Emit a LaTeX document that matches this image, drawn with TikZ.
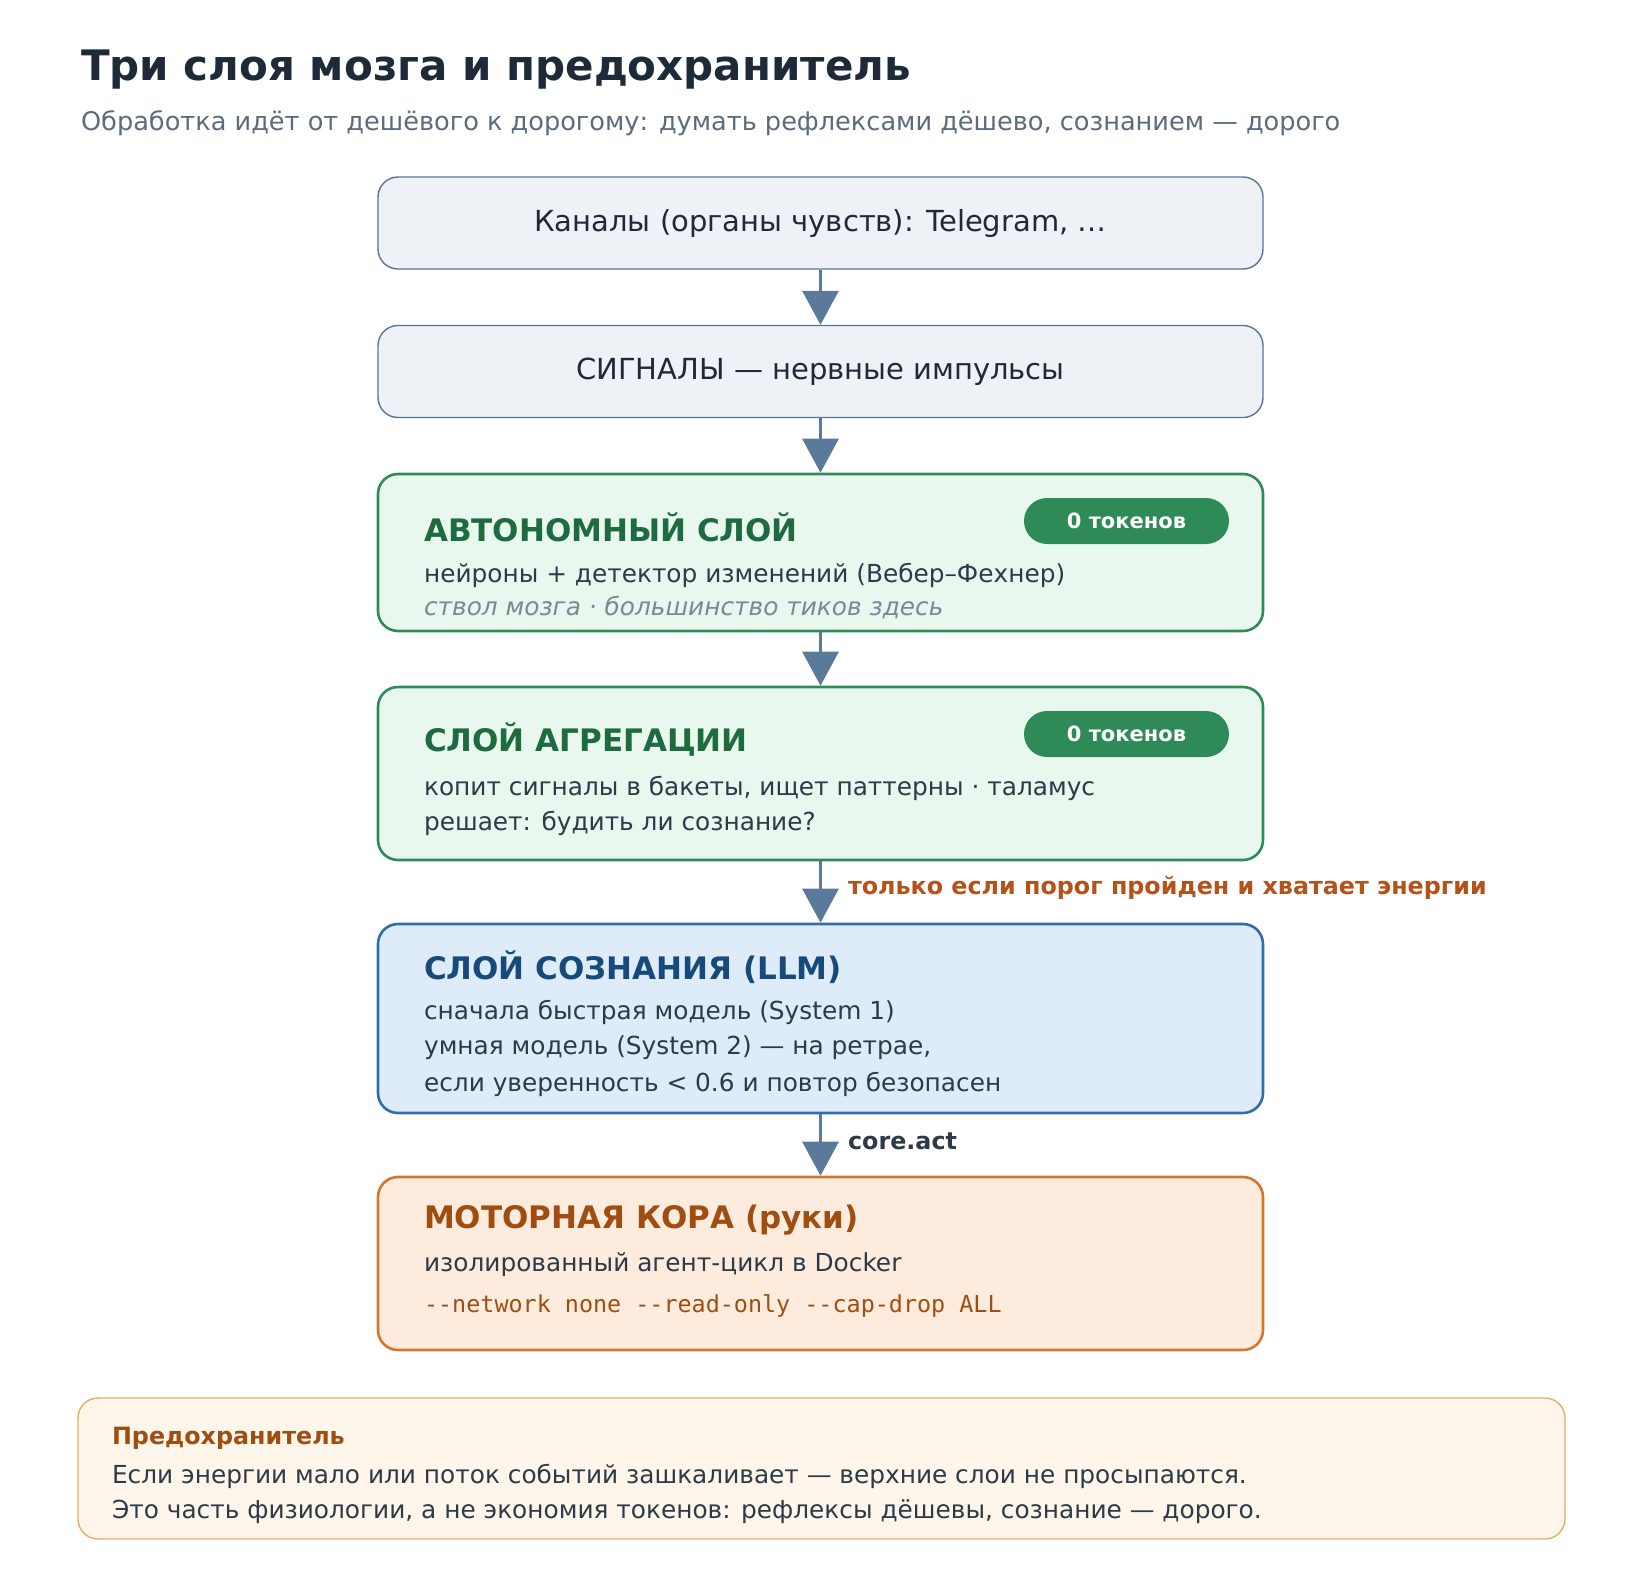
\documentclass[tikz,border=0pt]{standalone}
\usepackage{fontspec}
\setmainfont{DejaVu Sans}
\setmonofont{DejaVu Sans Mono}
\usetikzlibrary{arrows.meta,positioning}
\definecolor{ink}{HTML}{1E2A38}
\definecolor{subink}{HTML}{5A6B80}
\definecolor{body}{HTML}{2D3A48}
\definecolor{grayb}{HTML}{5A7594}
\definecolor{grayf}{HTML}{EEF2F7}
\definecolor{arrowc}{HTML}{5B7A99}
\definecolor{greenb}{HTML}{2E8B57}
\definecolor{greenf}{HTML}{E8F8EF}
\definecolor{greent}{HTML}{1E6B40}
\definecolor{blueb}{HTML}{2F6DB0}
\definecolor{bluef}{HTML}{DEEBF8}
\definecolor{bluet}{HTML}{174A7A}
\definecolor{orangeb}{HTML}{D2772E}
\definecolor{orangef}{HTML}{FDECDD}
\definecolor{oranget}{HTML}{A04D12}
\definecolor{warnc}{HTML}{B5521A}
\definecolor{fuseb}{HTML}{E0B060}
\definecolor{fusef}{HTML}{FEF6EA}
\definecolor{italc}{HTML}{7A8898}
\tikzset{
  layer/.style={draw, rounded corners=10pt, minimum width=442.5pt, inner sep=0pt},
  inbox/.style={layer, draw=grayb, fill=grayf, line width=0.7pt, minimum height=46pt,
    font=\fontsize{14.5}{17}\selectfont, text=ink},
  arr/.style={draw=arrowc, line width=1.5pt, -{Triangle[length=17pt,width=18pt]}},
  head/.style={anchor=west, font=\bfseries\fontsize{15.5}{18}\selectfont},
  line/.style={anchor=west, font=\fontsize{12.4}{15}\selectfont, text=body},
  badge/.style={fill=greenb, rounded corners=11.5pt, minimum width=102.5pt, minimum height=23pt,
    inner sep=0pt, text=white, font=\bfseries\fontsize{10.5}{12}\selectfont},
  note/.style={anchor=west, font=\bfseries\fontsize{11.9}{14}\selectfont},
}
\begin{document}
\begin{tikzpicture}[x=0.5pt,y=-0.5pt]
\useasboundingbox (0,0) rectangle (1640,1580);
% title
\node[anchor=west, text=ink, font=\bfseries\fontsize{21}{25}\selectfont] (title) at (74,70) {Три слоя мозга и предохранитель};
\node[anchor=west, text=subink, font=\fontsize{12.8}{15}\selectfont] (subtitle) at (74,123) {Обработка идёт от дешёвого к дорогому: думать рефлексами дёшево, сознанием — дорого};

% inputs
\node[inbox] (channels) at (820.5,223) {Каналы (органы чувств): Telegram, …};
\node[inbox] (signals) at (820.5,371.5) {СИГНАЛЫ — нервные импульсы};

% autonomous layer
\node[layer, draw=greenb, fill=greenf, line width=1.3pt, minimum height=78.5pt] (auto) at (820.5,552.5) {};
\node[head, text=greent] (autoT) at (417,527) {АВТОНОМНЫЙ СЛОЙ};
\node[badge] (autoB) at (1126.5,521) {0 токенов};
\node[line] (autoL1) at (417,575) {нейроны + детектор изменений (Вебер–Фехнер)};
\node[line, text=italc, font=\itshape\fontsize{12.4}{15}\selectfont] (autoL2) at (417,608) {ствол мозга · большинство тиков здесь};

% aggregation layer
\node[layer, draw=greenb, fill=greenf, line width=1.3pt, minimum height=86.5pt] (aggr) at (820.5,773.5) {};
\node[head, text=greent] (aggrT) at (417,740) {СЛОЙ АГРЕГАЦИИ};
\node[badge] (aggrB) at (1126.5,734) {0 токенов};
\node[line] (aggrL1) at (417,788) {копит сигналы в бакеты, ищет паттерны · таламус};
\node[line] (aggrL2) at (417,823) {решает: будить ли сознание?};

% consciousness layer
\node[layer, draw=blueb, fill=bluef, line width=1.3pt, minimum height=94.5pt] (llm) at (820.5,1018.5) {};
\node[head, text=bluet] (llmT) at (417,967) {СЛОЙ СОЗНАНИЯ (LLM)};
\node[line] (llmL1) at (417,1012) {сначала быстрая модель (System 1)};
\node[line] (llmL2) at (417,1048) {умная модель (System 2) — на ретрае,};
\node[line] (llmL3) at (417,1084) {если уверенность < 0.6 и повтор безопасен};

% motor cortex
\node[layer, draw=orangeb, fill=orangef, line width=1.3pt, minimum height=86.5pt] (motor) at (820.5,1263.5) {};
\node[head, text=oranget] (motorT) at (417,1220) {МОТОРНАЯ КОРА (руки)};
\node[line] (motorL1) at (417,1265) {изолированный агент-цикл в Docker};
\node[line, text=oranget, font=\ttfamily\fontsize{11.7}{14}\selectfont] (motorL2) at (417,1306) {-{}-network none -{}-read-only -{}-cap-drop ALL};

% arrows
\draw[arr] (channels) -- (signals);
\draw[arr] (signals) -- (auto);
\draw[arr] (auto) -- (aggr);
\draw[arr] (aggr) -- (llm);
\draw[arr] (llm) -- (motor);
\node[note, text=warnc] (gate) at (841,888) {только если порог пройден и хватает энергии};
\node[note, text=body] (act) at (841,1141) {core.act};

% fuse
\node[draw=fuseb, fill=fusef, line width=0.7pt, rounded corners=10pt, minimum width=743.5pt, minimum height=70.5pt, inner sep=0pt] (fuse) at (821.5,1468.5) {};
\node[note, text=oranget] (fuseT) at (105,1438) {Предохранитель};
\node[line] (fuseL1) at (105,1476) {Если энергии мало или поток событий зашкаливает — верхние слои не просыпаются.};
\node[line] (fuseL2) at (105,1512) {Это часть физиологии, а не экономия токенов: рефлексы дёшевы, сознание — дорого.};
\end{tikzpicture}
\end{document}
